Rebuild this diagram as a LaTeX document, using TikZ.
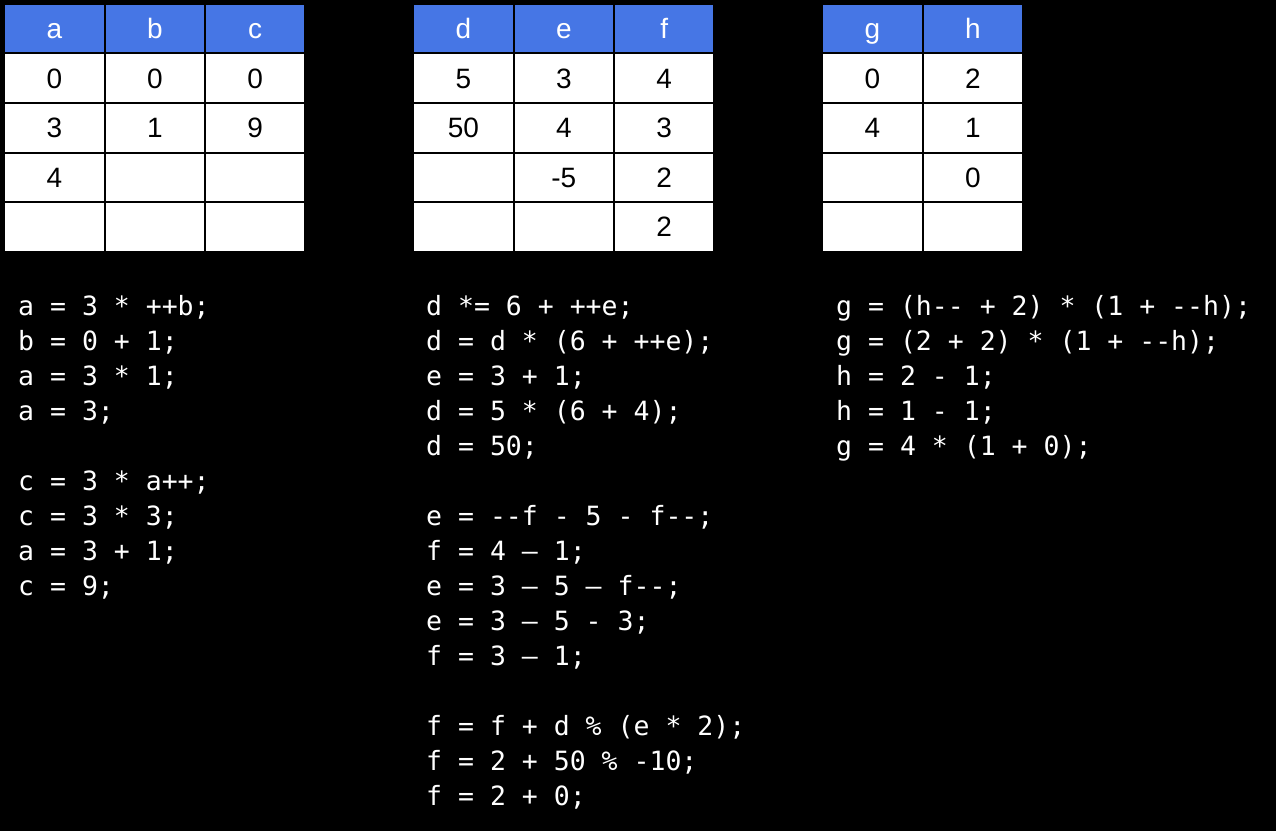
\documentclass[tikz,border=0pt]{standalone}
\usepackage{fontspec}
\setmonofont{DejaVu Sans Mono}
\newfontfamily\cellfont{Liberation Sans}
\usetikzlibrary{matrix}
\definecolor{headblue}{RGB}{70,118,229}

\begin{document}
\begin{tikzpicture}[x=1pt, y=-1pt,
    cell/.style={draw=black, line width=1pt, fill=white, inner sep=0pt,
      minimum width=99.4pt, minimum height=48.6pt, text height=20pt, text depth=0pt,
      font=\cellfont\fontsize{28}{30}\selectfont},
    head/.style={cell, fill=headblue, text=white},
    vartable/.style={matrix of nodes, nodes in empty cells, anchor=north west,
      inner sep=0pt, row sep=0pt, column sep=0pt, nodes={cell},
      row 1/.style={nodes={head}}},
    codeline/.style={anchor=base west, inner sep=0pt, text=white,
      font=\ttfamily\fontsize{26.5}{35}\selectfont}]
  \fill[black] (0,0) rectangle (1276,831);
  \useasboundingbox (0,0) rectangle (1276,831);

  \matrix (tabABC) [vartable] at (4,3.5)
  {
    a & b & c \\
    0 & 0 & 0 \\
    3 & 1 & 9 \\
    4 &   &   \\
      &   &   \\
  };
  \matrix (tabDEF) [vartable] at (413,3.5)
  {
    d  & e  & f \\
    5  & 3  & 4 \\
    50 & 4  & 3 \\
       & -5 & 2 \\
       &    & 2 \\
  };
  \matrix (tabGH) [vartable] at (822,3.5)
  {
    g & h \\
    0 & 2 \\
    4 & 1 \\
      & 0 \\
      &   \\
  };

  % code under the first table
  \foreach \txt [count=\i from 0] in {a = 3 * ++b;, b = 0 + 1;, a = 3 * 1;, a = 3;}
    \node[codeline] (codeA-\i) at (18, 315+35*\i) {\txt};
  \foreach \txt [count=\i from 5] in {c = 3 * a++;, c = 3 * 3;, a = 3 + 1;, c = 9;}
    \node[codeline] (codeA-\i) at (18, 315+35*\i) {\txt};

  % code under the second table
  \foreach \txt [count=\i from 0] in {d *= 6 + ++e;, d = d * (6 + ++e);, e = 3 + 1;,
      d = 5 * (6 + 4);, d = 50;}
    \node[codeline] (codeB-\i) at (426, 315+35*\i) {\txt};
  \foreach \txt [count=\i from 6] in {e = --f - 5 - f--;, f = 4 – 1;, e = 3 – 5 – f--;,
      e = 3 – 5 - 3;, f = 3 – 1;}
    \node[codeline] (codeB-\i) at (426, 315+35*\i) {\txt};
  \foreach \txt [count=\i from 12] in {f = f + d \% (e * 2);, f = 2 + 50 \% -10;, f = 2 + 0;}
    \node[codeline] (codeB-\i) at (426, 315+35*\i) {\txt};

  % code under the third table
  \foreach \txt [count=\i from 0] in {g = (h-- + 2) * (1 + --h);, g = (2 + 2) * (1 + --h);,
      h = 2 - 1;, h = 1 - 1;, g = 4 * (1 + 0);}
    \node[codeline] (codeC-\i) at (836, 315+35*\i) {\txt};
\end{tikzpicture}
\end{document}
